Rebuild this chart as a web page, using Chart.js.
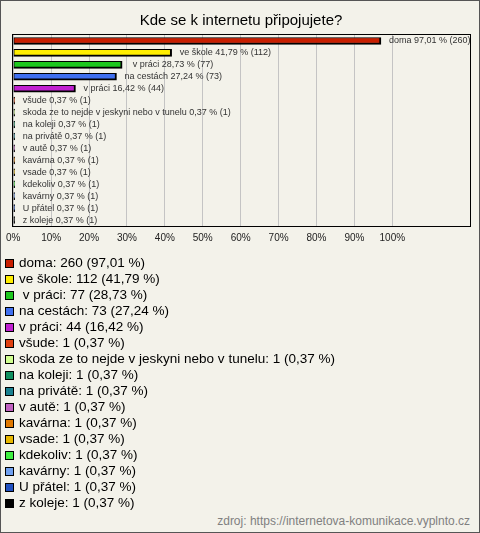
<!DOCTYPE html>
<html>
<head>
<meta charset="utf-8">
<script src="https://cdn.jsdelivr.net/npm/chart.js@4"></script>
<style>
  html, body { margin: 0; padding: 0; }
  body {
    width: 478px; height: 531px;
    border: 1px solid #555;
    background: #f3f2ea;
    position: relative;
    font-family: "Liberation Sans", Arial, sans-serif;
    overflow: hidden;
  }
  #chartBox { position: absolute; left: -1px; top: -1px; width: 480px; height: 256px; }
  #legend { position: absolute; left: 4px; top: 254px; }
  .item { height: 16px; line-height: 16px; font-size: 13.5px; color: #000; white-space: pre; display: flex; align-items: center; }
  .sw { width: 7px; height: 7px; border: 1px solid #000; margin-right: 5px; flex: none; }
  #source { position: absolute; right: 9px; top: 513px; font-size: 12px; color: #808080; }
</style>
</head>
<body>
<div id="chartBox"><canvas id="chart" width="480" height="256"></canvas></div>
<div id="legend"></div>
<div id="source">zdroj: https://internetova-komunikace.vyplnto.cz</div>
<script>
const labels = ["doma", "ve škole", " v práci", "na cestách", "v práci", "všude",
    "skoda ze to nejde v jeskyni nebo v tunelu", "na koleji", "na privátě", "v autě",
    "kavárna", "vsade", "kdekoliv", "kavárny", "U přátel", "z koleje"];
const counts = [260, 112, 77, 73, 44, 1, 1, 1, 1, 1, 1, 1, 1, 1, 1, 1];
const percents = [97.01, 41.79, 28.73, 27.24, 16.42, 0.37, 0.37, 0.37, 0.37, 0.37,
    0.37, 0.37, 0.37, 0.37, 0.37, 0.37];
const colors = ["#c81e00", "#ffee00", "#1ec81e", "#4070f0", "#c020d0", "#e04010",
    "#d0ff90", "#109060", "#1a8090", "#c060c0", "#e07800", "#e8b800", "#40f040",
    "#70a0f0", "#2050c0", "#000000"];
const tickValues = [0, 10, 20, 30, 40, 50, 60, 70, 80, 90, 100];

const fmt = (v) => v.toFixed(2).replace(".", ",");

// legend in html, one row per answer
const legend = document.getElementById("legend");
labels.forEach((l, i) => {
    const row = document.createElement("div");
    row.className = "item";
    row.innerHTML = '<span class="sw" style="background:' + colors[i] + '"></span>';
    row.appendChild(document.createTextNode(l + ": " + counts[i] + " (" + fmt(percents[i]) + " %)"));
    legend.appendChild(row);
});

const frame = {
    id: "frame",
    afterDatasetsDraw(chart) {
        const { ctx, chartArea: a } = chart;
        ctx.save();
        ctx.strokeStyle = "#000";
        ctx.lineWidth = 1;
        ctx.strokeRect(Math.round(a.left) - 0.5, Math.round(a.top) - 0.5,
            Math.round(a.right - a.left) + 1, Math.round(a.bottom - a.top) + 1);
        // value labels next to bars
        const meta = chart.getDatasetMeta(0);
        ctx.font = "9px 'Liberation Sans', Arial, sans-serif";
        ctx.fillStyle = "#333";
        ctx.textBaseline = "middle";
        meta.data.forEach((bar, i) => {
            const txt = labels[i] + " " + fmt(percents[i]) + " % (" + counts[i] + ")";
            ctx.fillText(txt, bar.x + 8, bar.y);
        });
        ctx.restore();
    }
};

new Chart(document.getElementById("chart"), {
    type: "bar",
    data: {
        labels: labels,
        datasets: [{
            data: percents,
            backgroundColor: colors,
            borderColor: "#000",
            borderWidth: { top: 1, left: 1, right: 2, bottom: 2 },
            borderSkipped: false,
            barThickness: 7,
        }]
    },
    options: {
        indexAxis: "y",
        responsive: false,
        animation: false,
        layout: { padding: { top: 8, left: 12, right: 10, bottom: 6 } },
        scales: {
            x: {
                min: 0,
                max: 120.5,
                afterBuildTicks: (scale) => {
                    scale.ticks = tickValues.map(v => ({ value: v }));
                },
                grid: { color: "#c4c4c4", drawTicks: false },
                border: { display: false },
                ticks: {
                    padding: 6,
                    maxRotation: 0,
                    callback: (v) => v + "%",
                    font: { family: "'Liberation Sans', Arial, sans-serif", size: 10 },
                    color: "#222",
                },
            },
            y: { display: false }
        },
        plugins: {
            legend: { display: false },
            tooltip: { enabled: false },
            title: {
                display: true,
                text: "Kde se k internetu připojujete?",
                font: { family: "'Liberation Sans', Arial, sans-serif", size: 15, weight: "normal" },
                color: "#000",
                padding: { top: 4, bottom: 5 },
            }
        }
    },
    plugins: [frame]
});
</script>
</body>
</html>
